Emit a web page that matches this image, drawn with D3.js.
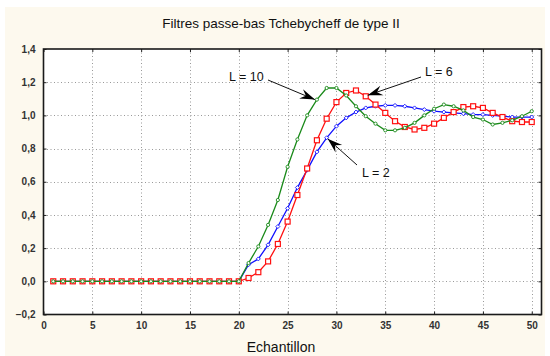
<!DOCTYPE html>
<html><head><meta charset="utf-8">
<script src="https://cdn.jsdelivr.net/npm/d3@7"></script>
<style>html,body{margin:0;padding:0;background:#fff;}svg{display:block;}</style>
</head><body>
<script>
const title = "Filtres passe-bas Tchebycheff de type II";
const xLabel = "Echantillon";
const samples = d3.range(1, 51);
const xTicks = [0,5,10,15,20,25,30,35,40,45,50];
const yTicks = [-0.2,0,0.2,0.4,0.6,0.8,1.0,1.2,1.4];
const zeros = Array(20).fill(0);
const L2 = zeros.concat([0.10,0.135,0.22,0.33,0.44,0.565,0.67,0.78,0.865,0.935,0.985,1.02,1.045,1.055,1.06,1.06,1.055,1.045,1.035,1.025,1.02,1.015,1.01,1.005,1.005,1.0,0.995,0.99,0.99,0.99]);
const L6 = zeros.concat([0.02,0.055,0.12,0.225,0.36,0.52,0.68,0.85,0.98,1.08,1.135,1.15,1.115,1.065,1.015,0.965,0.93,0.915,0.925,0.95,0.985,1.02,1.05,1.055,1.045,1.015,0.99,0.965,0.96,0.96]);
const L10 = zeros.concat([0.11,0.21,0.34,0.49,0.69,0.855,1.0,1.095,1.165,1.165,1.12,1.055,0.995,0.95,0.91,0.91,0.925,0.955,1.0,1.04,1.065,1.055,1.03,0.99,0.975,0.945,0.955,0.97,0.995,1.025]);
const annLabels = ["L = 10", "L = 6", "L = 2"];
const annSample = [28, 33, 29];

const W = 550, H = 356;
const svg = d3.select("body").append("svg").attr("width", W).attr("height", H);
svg.append("rect").attr("x",5).attr("y",7).attr("width",540).attr("height",H-7).attr("fill","#fdf9ee");

const L = 43.5, R = 541.5, T = 49, B = 314.5;
const x = d3.scaleLinear().domain([0,51]).range([L,R]);
const y = d3.scaleLinear().domain([-0.2,1.4]).range([B,T]);

svg.append("rect").attr("x",L).attr("y",T).attr("width",R-L).attr("height",B-T).attr("fill","#fff");

// grid
const g = svg.append("g");
g.selectAll("line.vg").data(xTicks.filter(d=>d>0)).join("line")
  .attr("x1",d=>Math.round(x(d))+0.5).attr("x2",d=>Math.round(x(d))+0.5).attr("y1",T).attr("y2",B)
  .attr("stroke","#999").attr("stroke-dasharray","1,2.5");
g.selectAll("line.hg").data(yTicks.filter(d=>d>-0.2 && d<1.4)).join("line")
  .attr("y1",d=>Math.round(y(d))+0.5).attr("y2",d=>Math.round(y(d))+0.5).attr("x1",L).attr("x2",R)
  .attr("stroke","#999").attr("stroke-dasharray","1,2.5");

// axes with inner ticks
const fmt = d => d3.format(".1f")(d).replace(".", ",").replace("-0,0","0,0");
const axB = svg.append("g").attr("transform",`translate(0,${B})`)
  .call(d3.axisBottom(x).tickValues(xTicks).tickSize(-3).tickPadding(7).tickFormat(d3.format("d")));
const axL = svg.append("g").attr("transform",`translate(${L},0)`)
  .call(d3.axisLeft(y).tickValues(yTicks).tickSize(-3).tickPadding(8).tickFormat(fmt));
const axT = svg.append("g").attr("transform",`translate(0,${T})`)
  .call(d3.axisTop(x).tickValues(xTicks).tickSize(-3).tickFormat(""));
const axR = svg.append("g").attr("transform",`translate(${R},0)`)
  .call(d3.axisRight(y).tickValues(yTicks).tickSize(-3).tickFormat(""));
[axB,axL,axT,axR].forEach(a=>{
  a.select(".domain").remove();
  a.selectAll("line").attr("stroke","#222");
  a.selectAll("text").attr("font-family","Liberation Sans, Arial, sans-serif").attr("font-size",10).attr("font-weight","bold").attr("fill","#333");
});
svg.append("rect").attr("x",L).attr("y",T).attr("width",R-L).attr("height",B-T)
  .attr("fill","none").attr("stroke","#1a1a1a").attr("stroke-width",1.6);

// series
const series = [
  {vals:L2, color:"#1010ff", marker:"diamond"},
  {vals:L6, color:"#ff1010", marker:"square"},
  {vals:L10, color:"#1a8a1a", marker:"circle"}
];
const line = d3.line().x((d,i)=>x(samples[i])).y(d=>y(d));
series.forEach(s=>{
  svg.append("path").datum(s.vals).attr("d",line).attr("fill","none").attr("stroke",s.color).attr("stroke-width",1.3);
  const gg = svg.append("g");
  if (s.marker==="square") {
    gg.selectAll("rect").data(s.vals).join("rect")
      .attr("x",(d,i)=>x(samples[i])-2.5).attr("y",d=>y(d)-2.5).attr("width",5).attr("height",5)
      .attr("fill","#fff").attr("stroke",s.color).attr("stroke-width",1.2);
  } else if (s.marker==="circle") {
    gg.selectAll("circle").data(s.vals).join("circle")
      .attr("cx",(d,i)=>x(samples[i])).attr("cy",d=>y(d)).attr("r",1.6)
      .attr("fill","#fff").attr("stroke",s.color).attr("stroke-width",0.9);
  } else {
    gg.selectAll("path").data(s.vals).join("path")
      .attr("d",(d,i)=>{const cx=x(samples[i]), cy=y(d); return `M${cx-2},${cy}L${cx},${cy-2}L${cx+2},${cy}L${cx},${cy+2}Z`;})
      .attr("fill","#fff").attr("stroke",s.color).attr("stroke-width",0.9);
  }
});

// annotations
function arrow(x1,y1,x2,y2){
  svg.append("line").attr("x1",x1).attr("y1",y1).attr("x2",x2).attr("y2",y2).attr("stroke","#111").attr("stroke-width",1);
  const a = Math.atan2(y2-y1,x2-x1), len=15, w=5;
  const bx = x2-len*Math.cos(a), by = y2-len*Math.sin(a);
  const px = -Math.sin(a)*w, py = Math.cos(a)*w;
  svg.append("path").attr("d",`M${x2},${y2}L${bx+px},${by+py}L${bx+0.35*len*Math.cos(a)},${by+0.35*len*Math.sin(a)}L${bx-px},${by-py}Z`).attr("fill","#000");
}
const serByAnn = [L10, L6, L2];
const annFont = "Liberation Sans, Arial, sans-serif";
{
  const tx = x(annSample[0])-2, ty = y(serByAnn[0][annSample[0]-1]);
  svg.append("text").attr("x",229).attr("y",81).text(annLabels[0]).attr("font-family",annFont).attr("font-size",12.5).attr("fill","#111");
  arrow(268,80,tx,ty);
}
{
  const tx = x(annSample[1])+2, ty = y(serByAnn[1][annSample[1]-1])-1;
  svg.append("text").attr("x",425).attr("y",76).text(annLabels[1]).attr("font-family",annFont).attr("font-size",12.5).attr("fill","#111");
  arrow(421,77,tx,ty);
}
{
  const tx = x(annSample[2])+1, ty = y(serByAnn[2][annSample[2]-1])+1;
  svg.append("text").attr("x",362).attr("y",177).text(annLabels[2]).attr("font-family",annFont).attr("font-size",12.5).attr("fill","#111");
  arrow(357,165,tx,ty);
}

svg.append("text").attr("x",281).attr("y",28).attr("text-anchor","middle").text(title)
  .attr("font-family",annFont).attr("font-size",13.5).attr("fill","#111");
svg.append("text").attr("x",281).attr("y",352).attr("text-anchor","middle").text(xLabel)
  .attr("font-family",annFont).attr("font-size",14).attr("fill","#111");
</script>
</body></html>
